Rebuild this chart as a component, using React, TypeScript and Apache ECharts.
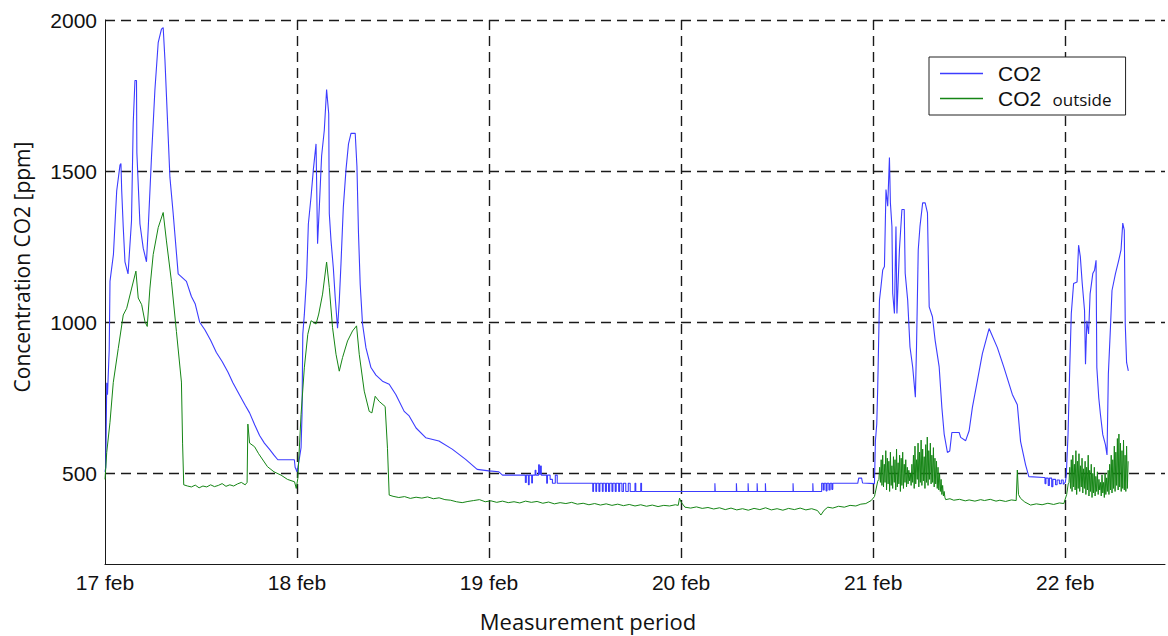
import React, { useEffect, useRef } from "react";
import * as echarts from "echarts";

// x = days since 17 feb 00:00, y = ppm
const dayLabels = ["17 feb", "18 feb", "19 feb", "20 feb", "21 feb", "22 feb"];
const yTickValues = [500, 1000, 1500, 2000];

const co2Day17 = [
  [0.000, 505], [0.004, 520], [0.009, 800], [0.013, 760], [0.022, 910], [0.026, 1135], [0.044, 1225],
  [0.052, 1325], [0.061, 1435], [0.078, 1520], [0.083, 1525], [0.087, 1435], [0.095, 1315], [0.104, 1200],
  [0.120, 1160], [0.138, 1335], [0.147, 1660], [0.156, 1800], [0.164, 1800], [0.166, 1560], [0.182, 1325],
  [0.199, 1245], [0.216, 1200], [0.225, 1310], [0.242, 1545], [0.260, 1770], [0.277, 1925], [0.294, 1970],
  [0.303, 1975], [0.312, 1870], [0.329, 1615], [0.338, 1480], [0.355, 1360], [0.381, 1160], [0.424, 1135],
  [0.450, 1085], [0.470, 1060], [0.493, 1000], [0.520, 975], [0.550, 940], [0.580, 900], [0.610, 870],
  [0.640, 835], [0.666, 800], [0.700, 760], [0.730, 725], [0.753, 700], [0.780, 660], [0.805, 625],
  [0.830, 600], [0.856, 580], [0.880, 560], [0.900, 545], [0.986, 545], [0.990, 520], [1.000, 505],
];

const co2Day18 = [
  [1.010, 540], [1.021, 585], [1.026, 695], [1.030, 960], [1.038, 1025], [1.050, 1150], [1.059, 1325],
  [1.073, 1415], [1.085, 1505], [1.099, 1590], [1.107, 1260], [1.116, 1380], [1.128, 1550], [1.142, 1635],
  [1.154, 1770], [1.165, 1690], [1.168, 1360], [1.177, 1270], [1.189, 1180], [1.199, 1080], [1.211, 980],
  [1.220, 1070], [1.229, 1195], [1.241, 1380], [1.255, 1505], [1.268, 1590], [1.281, 1625], [1.303, 1625],
  [1.312, 1515], [1.320, 1295], [1.329, 1125], [1.341, 995], [1.359, 915], [1.385, 850], [1.411, 825],
  [1.445, 805], [1.480, 795], [1.515, 760], [1.558, 705], [1.584, 690], [1.620, 650], [1.670, 618],
  [1.739, 607], [1.808, 580], [1.878, 546], [1.938, 513], [1.999, 508], [2.051, 505],
];

const co2Quiet = [
  [2.070, 494], [2.189, 494], [2.189, 470], [2.194, 470], [2.194, 494], [2.205, 494], [2.205, 462],
  [2.209, 462], [2.209, 494], [2.222, 494], [2.222, 468], [2.226, 468], [2.226, 494], [2.240, 494],
  [2.240, 510], [2.244, 510], [2.244, 494], [2.258, 494], [2.258, 528], [2.262, 528], [2.262, 498],
  [2.268, 498], [2.268, 524], [2.272, 524], [2.272, 494], [2.300, 494], [2.300, 467], [2.304, 467],
  [2.304, 494], [2.318, 494], [2.318, 480], [2.330, 480], [2.330, 467], [2.345, 467], [2.345, 494],
  [2.355, 494], [2.355, 467], [2.540, 467], [2.540, 440], [2.544, 440], [2.544, 467], [2.556, 467],
  [2.556, 440], [2.560, 440], [2.560, 467], [2.572, 467], [2.572, 440], [2.577, 440], [2.577, 467],
  [2.590, 467], [2.590, 440], [2.594, 440], [2.594, 467], [2.606, 467], [2.606, 440], [2.611, 440],
  [2.611, 467], [2.622, 467], [2.622, 440], [2.628, 440], [2.628, 467], [2.640, 467], [2.640, 440],
  [2.645, 440], [2.645, 467], [2.657, 467], [2.657, 440], [2.662, 440], [2.662, 467], [2.675, 467],
  [2.675, 440], [2.680, 440], [2.680, 467], [2.692, 467], [2.692, 440], [2.700, 440], [2.700, 467],
  [2.712, 467], [2.712, 440], [2.725, 440], [2.725, 467], [2.735, 467], [2.735, 440], [2.760, 440],
  [2.760, 467], [2.764, 467], [2.764, 440], [2.790, 440], [2.790, 467], [2.794, 467], [2.794, 440],
  [3.176, 440], [3.176, 467], [3.178, 467], [3.178, 440], [3.288, 440], [3.288, 467], [3.290, 467],
  [3.290, 440], [3.349, 440], [3.349, 467], [3.351, 467], [3.351, 440], [3.396, 440], [3.396, 467],
  [3.398, 467], [3.398, 440], [3.439, 440], [3.439, 467], [3.441, 467], [3.441, 440], [3.583, 440],
  [3.583, 467], [3.585, 467], [3.585, 440], [3.686, 440], [3.686, 467], [3.688, 467], [3.688, 440],
  [3.732, 440], [3.732, 467], [3.740, 467], [3.740, 445], [3.745, 445], [3.745, 467], [3.755, 467],
  [3.755, 442], [3.760, 442], [3.760, 467], [3.770, 467], [3.770, 445], [3.776, 445], [3.776, 467],
  [3.785, 467], [3.785, 447], [3.790, 447], [3.790, 467], [3.920, 467], [3.925, 484], [3.940, 484],
  [3.945, 468], [4.007, 466],
];

const co2Day21 = [
  [4.012, 608], [4.019, 663], [4.024, 785], [4.033, 1073], [4.041, 1118], [4.050, 1173], [4.059, 1184],
  [4.067, 1439], [4.076, 1384], [4.085, 1545], [4.090, 1395], [4.098, 1317], [4.102, 1096], [4.111, 1029],
  [4.119, 1317], [4.124, 1029], [4.137, 1240], [4.150, 1373], [4.162, 1373], [4.167, 1162], [4.180, 1073],
  [4.192, 918], [4.206, 852], [4.220, 752], [4.226, 918], [4.235, 1240], [4.244, 1317], [4.258, 1395],
  [4.271, 1395], [4.283, 1362], [4.292, 1051], [4.309, 1018], [4.323, 940], [4.344, 852], [4.358, 718],
  [4.370, 630], [4.387, 569], [4.399, 574], [4.410, 635], [4.448, 635], [4.456, 619], [4.482, 608],
  [4.500, 641], [4.517, 718], [4.543, 807], [4.569, 896], [4.604, 979], [4.647, 916], [4.682, 849],
  [4.725, 761], [4.751, 727], [4.768, 605], [4.794, 528], [4.811, 489], [4.889, 486], [4.895, 486],
  [4.895, 466], [4.900, 466], [4.900, 484], [4.912, 484], [4.912, 460], [4.918, 460], [4.918, 484],
  [4.930, 484], [4.930, 456], [4.936, 456], [4.936, 480], [4.950, 480], [4.950, 462], [4.958, 462],
  [4.958, 478], [4.970, 478], [4.970, 466], [4.980, 466], [4.980, 478], [4.990, 478], [4.990, 464],
  [5.001, 470],
];

const co2Day22 = [
  [5.006, 494], [5.015, 628], [5.024, 850], [5.032, 1028], [5.044, 1128], [5.062, 1133], [5.070, 1255],
  [5.079, 1217], [5.089, 1128], [5.101, 1039], [5.106, 861], [5.113, 1005], [5.122, 961], [5.130, 1094],
  [5.144, 1161], [5.153, 1172], [5.161, 1205], [5.165, 850], [5.175, 750], [5.184, 694], [5.196, 628],
  [5.210, 594], [5.218, 561], [5.225, 828], [5.236, 983], [5.244, 1105], [5.262, 1161], [5.279, 1205],
  [5.291, 1239], [5.300, 1328], [5.308, 1305], [5.313, 994], [5.320, 867], [5.329, 839],
];

const outsideDay17 = [
  [0.000, 480], [0.009, 569], [0.026, 669], [0.043, 800], [0.069, 913], [0.095, 1024], [0.113, 1046],
  [0.139, 1113], [0.161, 1169], [0.173, 1080], [0.191, 1058], [0.208, 1002], [0.220, 986], [0.234, 1113],
  [0.251, 1224], [0.277, 1313], [0.303, 1363], [0.320, 1269], [0.346, 1135], [0.372, 969], [0.398, 802],
  [0.404, 600], [0.410, 462], [0.430, 458], [0.450, 455], [0.470, 461], [0.490, 452], [0.510, 458],
  [0.530, 455], [0.550, 462], [0.570, 456], [0.590, 460], [0.610, 466], [0.630, 457], [0.650, 462],
  [0.670, 458], [0.690, 465], [0.710, 470], [0.730, 462], [0.740, 470], [0.744, 663], [0.753, 600],
  [0.779, 588], [0.800, 565], [0.846, 522], [0.880, 505], [0.917, 494], [0.950, 480], [0.987, 472],
];

const outsideDay18 = [
  [0.996, 450], [1.004, 483], [1.021, 694], [1.038, 849], [1.056, 960], [1.073, 1005], [1.099, 994],
  [1.113, 1027], [1.133, 1093], [1.154, 1199], [1.168, 1115], [1.185, 982], [1.203, 894], [1.220, 838],
  [1.237, 883], [1.263, 938], [1.289, 971], [1.310, 988], [1.324, 894], [1.350, 772], [1.376, 705],
  [1.390, 700], [1.407, 755], [1.428, 738], [1.459, 721], [1.471, 583], [1.480, 428],
];

const outsideQuiet = [
  [1.50, 424], [1.53, 420], [1.56, 423], [1.59, 417], [1.62, 421], [1.65, 418], [1.68, 422], [1.71, 416],
  [1.74, 419], [1.77, 413], [1.80, 411], [1.83, 406], [1.86, 403], [1.89, 407], [1.92, 410], [1.95, 413],
  [1.98, 406], [2.01, 409], [2.04, 404], [2.07, 408], [2.10, 403], [2.13, 406], [2.16, 402], [2.19, 408],
  [2.22, 404], [2.25, 407], [2.28, 401], [2.31, 405], [2.34, 399], [2.37, 403], [2.40, 400], [2.43, 404],
  [2.46, 398], [2.49, 401], [2.52, 396], [2.55, 400], [2.58, 395], [2.61, 399], [2.64, 394], [2.67, 398],
  [2.70, 393], [2.73, 397], [2.76, 392], [2.79, 396], [2.82, 391], [2.85, 395], [2.88, 390], [2.91, 394],
  [2.94, 392], [2.97, 396], [2.985, 394], [2.992, 418], [3.000, 405], [3.020, 388], [3.05, 385],
  [3.08, 389], [3.11, 384], [3.14, 387], [3.17, 382], [3.20, 386], [3.23, 380], [3.26, 385], [3.29, 379],
  [3.32, 383], [3.35, 378], [3.38, 384], [3.41, 380], [3.44, 386], [3.47, 379], [3.50, 383], [3.53, 378],
  [3.56, 384], [3.59, 380], [3.62, 385], [3.65, 379], [3.68, 383], [3.71, 377], [3.728, 362], [3.745, 378],
  [3.764, 388], [3.79, 385], [3.82, 391], [3.85, 388], [3.88, 394], [3.91, 392], [3.936, 398], [3.962, 400],
  [3.990, 410], [4.007, 423], [4.024, 474],
];

// dense fluctuating readings, sampled every bandStep days
const bandStep = 0.004;
const band21Start = 4.03;
const band21 = [
  480, 520, 470, 545, 460, 560, 455, 530, 470, 575,
  445, 550, 465, 540, 440, 570, 460, 525, 450, 555,
  470, 545, 445, 580, 455, 535, 465, 560, 440, 550,
  460, 570, 450, 530, 470, 545, 455, 520, 465, 510,
  475, 500, 460, 530, 470, 560, 450, 590, 465, 545,
  480, 600, 455, 570, 470, 610, 460, 580, 475, 555,
  450, 595, 470, 620, 460, 575, 480, 600, 465, 560,
  470, 585, 455, 550, 465, 540, 450, 520, 445, 500,
  440, 480, 430, 460, 425, 440, 420,
];

const outsideMid = [
  [4.378, 413], [4.40, 416], [4.42, 411], [4.45, 414], [4.48, 409], [4.50, 412], [4.53, 408], [4.56, 413],
  [4.58, 410], [4.61, 414], [4.64, 408], [4.66, 411], [4.69, 407], [4.72, 412], [4.745, 410], [4.751, 511],
  [4.757, 430], [4.768, 417], [4.790, 405], [4.820, 395], [4.85, 399], [4.88, 396], [4.91, 401],
  [4.94, 397], [4.97, 402], [4.993, 400], [5.008, 430], [5.016, 465],
];

const band22Start = 5.02;
const band22 = [
  470, 520, 450, 545, 440, 560, 455, 530, 445, 575,
  430, 540, 450, 565, 440, 525, 455, 550, 435, 515,
  450, 540, 430, 520, 445, 560, 425, 510, 440, 530,
  420, 500, 435, 520, 425, 490, 440, 505, 430, 480,
  445, 470, 425, 495, 435, 470, 420, 500, 430, 485,
  440, 510, 430, 530, 445, 560, 435, 545, 450, 590,
  440, 570, 460, 615, 445, 630, 455, 600, 440, 575,
  450, 610, 445, 560, 440, 590, 450, 540,
];

const bandPairs = (start: number, vals: number[]) =>
  vals.map((v, i) => [+(start + i * bandStep).toFixed(4), v]);

export default function App() {
  const ref = useRef<HTMLDivElement>(null);

  useEffect(() => {
    if (!ref.current) return;
    const chart = echarts.init(ref.current, undefined, { renderer: "svg" });

    const co2Data = [...co2Day17, ...co2Day18, ...co2Quiet, ...co2Day21, ...co2Day22];
    const outsideData = [
      ...outsideDay17,
      ...outsideDay18,
      ...outsideQuiet,
      ...bandPairs(band21Start, band21),
      ...outsideMid,
      ...bandPairs(band22Start, band22),
    ];

    const tickFont = "'Liberation Sans', Arial, sans-serif";
    const titleFont = "'Open Sans', 'Noto Sans', sans-serif";
    const gridDash = { color: "#1a1a1a", width: 1.4, type: [10, 6] };

    chart.setOption({
      animation: false,
      backgroundColor: "#ffffff",
      grid: { left: 105, top: 20, right: 0, bottom: 72 },
      xAxis: {
        type: "value",
        min: 0,
        max: 5.52,
        interval: 1,
        axisLine: { show: true, onZero: false, lineStyle: { color: "#1a1a1a", width: 1 } },
        axisTick: { show: false },
        axisLabel: {
          margin: 8,
          color: "#111",
          fontSize: 21,
          fontFamily: tickFont,
          formatter: (v: number) => {
            const r = Math.round(v);
            return Math.abs(v - r) < 1e-6 && dayLabels[r] ? dayLabels[r] : "";
          },
        },
        splitLine: {
          show: true,
          showMinLine: false,
          showMaxLine: false,
          lineStyle: gridDash,
        },
      },
      yAxis: {
        type: "value",
        min: 200,
        max: 2000,
        interval: 100,
        axisLine: { show: true, lineStyle: { color: "#1a1a1a", width: 1 } },
        axisTick: { show: false },
        splitLine: { show: false },
        axisLabel: {
          margin: 8,
          color: "#111",
          fontSize: 21,
          fontFamily: tickFont,
          formatter: (v: number) => (yTickValues.includes(Math.round(v)) ? String(Math.round(v)) : ""),
        },
      },
      legend: {
        orient: "vertical",
        left: 929,
        top: 57,
        padding: [6, 14, 6, 11],
        itemWidth: 43,
        itemHeight: 1.5,
        itemGap: 4,
        icon: "rect",
        backgroundColor: "#ffffff",
        borderColor: "#222",
        borderWidth: 1,
        borderRadius: 0,
        data: ["CO2", "CO2 outside"],
        formatter: (name: string) => (name === "CO2 outside" ? "{a|CO2} {b|outside}" : "{a|CO2}"),
        textStyle: {
          color: "#111",
          rich: {
            a: { fontSize: 21, fontFamily: tickFont, color: "#111", lineHeight: 24, padding: [0, 0, 0, 10] },
            b: { fontSize: 17, fontFamily: titleFont, color: "#111", lineHeight: 24, padding: [2, 0, 0, 8] },
          },
        },
      },
      graphic: [
        {
          type: "text",
          x: 22,
          y: 267,
          rotation: Math.PI / 2,
          style: {
            text: "Concentration CO2 [ppm]",
            fontSize: 21,
            fontFamily: titleFont,
            fill: "#111",
            align: "center",
            verticalAlign: "middle",
          },
        },
        {
          type: "text",
          x: 588,
          y: 621,
          style: {
            text: "Measurement period",
            fontSize: 22,
            fontFamily: titleFont,
            fill: "#111",
            align: "center",
            verticalAlign: "middle",
          },
        },
      ],
      series: [
        {
          name: "CO2",
          type: "line",
          data: co2Data,
          showSymbol: false,
          symbol: "none",
          lineStyle: { color: "#3c3cff", width: 1.1 },
          itemStyle: { color: "#3c3cff" },
          z: 3,
          markLine: {
            silent: true,
            symbol: "none",
            label: { show: false },
            lineStyle: gridDash,
            data: yTickValues.map((v) => ({ yAxis: v })),
            z: 1,
          },
        },
        {
          name: "CO2 outside",
          type: "line",
          data: outsideData,
          showSymbol: false,
          symbol: "none",
          lineStyle: { color: "#158515", width: 1 },
          itemStyle: { color: "#158515" },
          z: 4,
        },
      ],
    });

    return () => chart.dispose();
  }, []);

  return (
    <div
      ref={ref}
      style={{ position: "absolute", left: 0, top: 0, width: 1168, height: 636, background: "#fff" }}
    />
  );
}
